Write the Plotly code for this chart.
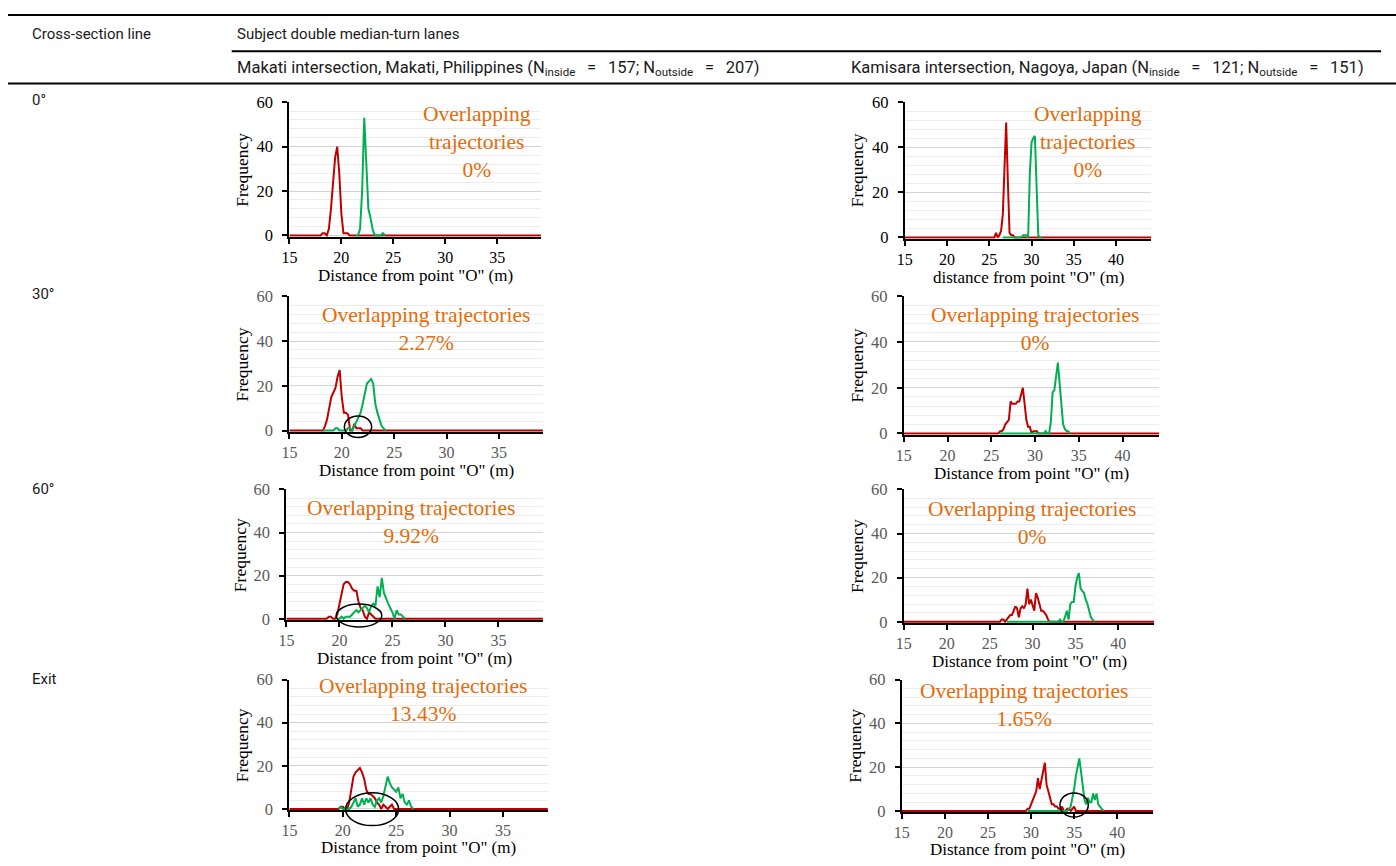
import plotly.graph_objects as go

# ---------------- data ----------------
# Makati, 0 deg
mk0_in_x = [15, 18.0, 18.2, 18.4, 18.6, 18.8, 19.0, 19.2, 19.4, 19.6, 19.8, 20.0, 20.2, 20.4, 20.6, 20.8, 39.2]
mk0_in_y = [0, 0, 1, 1, 0, 3, 12, 25, 35, 40, 28, 10, 1, 1, 1, 0, 0]
mk0_out_x = [21.4, 21.6, 21.8, 22.0, 22.2, 22.4, 22.6, 22.8, 23.0, 23.2, 23.4, 23.6, 23.8, 24.0, 24.2]
mk0_out_y = [0, 0, 3, 20, 53, 30, 12, 8, 3, 0, 0, 0, 0, 1, 0]

# Kamisara, 0 deg
km0_in_x = [15, 25.4, 25.6, 25.8, 26.0, 26.2, 26.4, 26.6, 26.8, 27.0, 27.2, 27.4, 27.6, 27.8, 28.0, 44.2]
km0_in_y = [0, 0, 0, 2, 0, 1, 3, 10, 35, 51, 25, 2, 1, 1, 0, 0]
km0_out_x = [26.6, 28.8, 29.0, 29.2, 29.4, 29.6, 29.8, 30.0, 30.2, 30.4, 30.6, 30.8, 31.0, 31.2]
km0_out_y = [0, 0, 1, 1, 1, 0, 28, 42, 44, 45, 20, 1, 0, 0]

# Makati, 30 deg
mk30_in_x = [15, 18.0, 18.2, 18.4, 18.6, 18.8, 19.0, 19.2, 19.4, 19.6, 19.8, 20.0, 20.2, 20.4, 20.6,
             20.8, 21.0, 21.2, 21.4, 21.6, 21.8, 22.0, 39.2]
mk30_in_y = [0, 0, 0, 2, 5, 10, 15, 17, 19, 24, 27, 15, 8, 8, 7, 0, 0, 3, 1, 1, 1, 0, 0]
mk30_out_x = [18.2, 19.2, 19.4, 19.6, 19.8, 20.0, 20.2, 20.4, 20.6, 20.8, 21.0, 21.2, 21.4, 21.6, 21.8,
              22.0, 22.2, 22.4, 22.6, 22.8, 23.0, 23.2, 23.4, 23.6, 23.8, 24.0, 24.2]
mk30_out_y = [0, 0, 1, 1, 0, 0, 0, 0, 1, 1, 0, 2, 4, 6, 8, 12, 17, 21, 22, 23, 21, 12, 8, 5, 2, 1, 0]

# Kamisara, 30 deg
km30_in_x = [15, 25.6, 25.8, 26.0, 26.2, 26.4, 26.6, 26.8, 27.0, 27.2, 27.4, 27.6, 27.8, 28.0, 28.2,
             28.4, 28.6, 28.8, 29.0, 29.2, 29.4, 29.6, 29.8, 30.0, 30.2, 30.4, 44.2]
km30_in_y = [0, 0, 0, 1, 1, 2, 4, 5, 6, 14, 13, 13, 13, 14, 14, 17, 20, 13, 6, 3, 3, 0, 1, 1, 1, 0, 0]
km30_out_x = [26.0, 30.8, 31.0, 31.2, 31.4, 31.6, 31.8, 32.0, 32.2, 32.4, 32.6, 32.8, 33.0, 33.2,
              33.4, 33.6, 33.8, 34.0]
km30_out_y = [0, 0, 0, 1, 0, 0, 5, 18, 19, 25, 31, 22, 12, 4, 2, 1, 1, 0]

# Makati, 60 deg
mk60_in_x = [15, 18.8, 19.0, 19.2, 19.4, 19.6, 19.8, 20.0, 20.2, 20.4, 20.6, 20.8, 21.0, 21.2, 21.4,
             21.6, 21.8, 22.0, 22.2, 22.4, 22.6, 22.8, 23.0, 23.2, 23.4, 39.2]
mk60_in_y = [0, 0, 1, 1, 0, 0, 2, 7, 12, 16, 17, 17, 16, 14, 13, 13, 8, 5, 4, 1, 0, 3, 2, 1, 0, 0]
mk60_out_x = [19.8, 20.0, 20.2, 20.4, 20.6, 20.8, 21.0, 21.2, 21.4, 21.6, 21.8, 22.0, 22.2, 22.4,
              22.6, 22.8, 23.0, 23.2, 23.4, 23.6, 23.8, 24.0, 24.2, 24.4, 24.6, 24.8, 25.0, 25.2,
              25.4, 25.6, 25.8, 26.0, 26.2]
mk60_out_y = [0, 0, 1, 0, 1, 1, 1, 2, 3, 4, 3, 4, 5, 6, 5, 3, 6, 7, 6, 15, 10, 19, 12, 9, 7, 5, 3,
              0, 4, 2, 2, 1, 0]

# Kamisara, 60 deg
km60_in_x = [15, 26.2, 26.4, 26.6, 26.8, 27.0, 27.2, 27.4, 27.6, 27.8, 28.0, 28.2, 28.4, 28.6, 28.8,
             29.0, 29.2, 29.4, 29.6, 29.8, 30.0, 30.2, 30.4, 30.6, 30.8, 31.0, 31.2, 31.4, 31.6,
             31.8, 32.0, 44.2]
km60_in_y = [0, 0, 1, 1, 0, 1, 2, 3, 3, 5, 7, 6, 2, 6, 7, 6, 8, 15, 8, 10, 7, 5, 13, 11, 8, 5, 5,
             4, 3, 1, 0, 0]
km60_out_x = [27.0, 33.0, 33.2, 33.4, 33.6, 33.8, 34.0, 34.2, 34.4, 34.6, 34.8, 35.0, 35.2, 35.4,
              35.6, 35.8, 36.0, 36.2, 36.4, 36.6, 36.8, 37.0, 37.2]
km60_out_y = [0, 0, 1, 0, 0, 3, 5, 1, 8, 9, 9, 16, 20, 22, 15, 14, 13, 10, 8, 5, 2, 1, 0]

# Makati, exit
mkex_in_x = [15, 19.4, 19.6, 19.8, 20.0, 20.2, 20.4, 20.6, 20.8, 21.0, 21.2, 21.4, 21.6, 21.8, 22.0,
             22.2, 22.4, 22.6, 22.8, 23.0, 23.2, 23.4, 23.6, 23.8, 24.0, 24.2, 24.4, 24.6, 24.8, 39.2]
mkex_in_y = [0, 0, 0, 1, 1, 0, 0, 3, 10, 15, 17, 18, 19, 17, 14, 9, 7, 7, 6, 5, 3, 2, 0, 2, 1, 0,
             1, 2, 0, 0]
mkex_out_x = [19.6, 19.8, 20.0, 20.2, 20.4, 20.6, 20.8, 21.0, 21.2, 21.4, 21.6, 21.8, 22.0, 22.2,
              22.4, 22.6, 22.8, 23.0, 23.2, 23.4, 23.6, 23.8, 24.0, 24.2, 24.4, 24.6, 24.8, 25.0,
              25.2, 25.4, 25.6, 25.8, 26.0, 26.2, 26.4, 26.6]
mkex_out_y = [0, 1, 0, 0, 0, 0, 1, 3, 5, 1, 2, 5, 2, 5, 3, 5, 2, 1, 4, 5, 3, 6, 10, 15, 12, 10, 9,
              8, 10, 5, 7, 3, 2, 4, 1, 0]

# Kamisara, exit
kmex_in_x = [15, 29.2, 29.4, 29.6, 29.8, 30.0, 30.2, 30.4, 30.6, 30.8, 31.0, 31.2, 31.4, 31.6, 31.8,
             32.0, 32.2, 32.4, 32.6, 32.8, 33.0, 33.2, 33.4, 33.6, 33.8, 34.0, 34.2, 34.4, 34.6,
             34.8, 35.0, 35.2, 44.2]
kmex_in_y = [0, 0, 0, 1, 1, 3, 5, 7, 9, 15, 10, 14, 18, 22, 12, 9, 7, 3, 3, 2, 2, 1, 1, 2, 0, 0,
             1, 1, 0, 1, 2, 0, 0]
kmex_out_x = [29.6, 34.0, 34.2, 34.4, 34.6, 34.8, 35.0, 35.2, 35.4, 35.6, 35.8, 36.0, 36.2, 36.4,
              36.6, 36.8, 37.0, 37.2, 37.4, 37.6, 37.8, 38.0, 38.2, 38.4]
kmex_out_y = [0, 0, 0, 1, 2, 6, 10, 16, 20, 24, 18, 10, 5, 3, 6, 4, 4, 8, 5, 8, 3, 2, 1, 0]

overlap_labels = ["Overlapping<br>trajectories<br>0%", "Overlapping<br>trajectories<br>0%",
                  "Overlapping trajectories<br>2.27%", "Overlapping trajectories<br>0%",
                  "Overlapping trajectories<br>9.92%", "Overlapping trajectories<br>0%",
                  "Overlapping trajectories<br>13.43%", "Overlapping trajectories<br>1.65%"]
x_titles = ['Distance from point "O" (m)', 'distance from point "O" (m)'] + ['Distance from point "O" (m)'] * 6
row_labels = ["0°", "30°", "60°", "Exit"]

W, H = 1396, 866
RED = "#C00000"
GREEN = "#00B050"
ORANGE = "#E46C0A"
SERIF = "Liberation Serif, Times New Roman, serif"
TABLE_FONT = "Roboto, Noto Sans, sans-serif"

panels = [
    dict(inx=mk0_in_x, iny=mk0_in_y, outx=mk0_out_x, outy=mk0_out_y, box=(283, 536, 95, 231), xmax=39.2, tc="#000000", lab=(472, 136), ell=None),
    dict(inx=km0_in_x, iny=km0_in_y, outx=km0_out_x, outy=km0_out_y, box=(902, 1150, 95, 233), xmax=44.2, tc="#000000", lab=(1086, 136), ell=None),
    dict(inx=mk30_in_x, iny=mk30_in_y, outx=mk30_out_x, outy=mk30_out_y, box=(283, 538, 293, 430), xmax=39.2, tc="#595959", lab=(420, 326), ell=(20.25, 22.85, -3.1, 6.5)),
    dict(inx=km30_in_x, iny=km30_in_y, outx=km30_out_x, outy=km30_out_y, box=(901, 1158, 293, 433), xmax=44.2, tc="#595959", lab=(1033, 326), ell=None),
    dict(inx=mk60_in_x, iny=mk60_in_y, outx=mk60_out_x, outy=mk60_out_y, box=(280, 538, 490, 622), xmax=39.2, tc="#595959", lab=(405, 523), ell=(19.7, 24.0, -3.8, 6.8)),
    dict(inx=km60_in_x, iny=km60_in_y, outx=km60_out_x, outy=km60_out_y, box=(901, 1153, 490, 625), xmax=44.2, tc="#595959", lab=(1030, 524), ell=None),
    dict(inx=mkex_in_x, iny=mkex_in_y, outx=mkex_out_x, outy=mkex_out_y, box=(283, 543, 684, 816), xmax=39.2, tc="#595959", lab=(417, 705), ell=(20.27, 25.23, -7.7, 7.5)),
    dict(inx=kmex_in_x, iny=kmex_in_y, outx=kmex_out_x, outy=kmex_out_y, box=(899, 1152, 684, 818), xmax=44.2, tc="#595959", lab=(1022, 710), ell=(33.35, 36.64, -2.8, 8.25)),
]

YMIN = -0.6
fig = go.Figure()
annotations = []
shapes = []
layout_axes = {}

for i, p in enumerate(panels):
    k = i + 1
    xs = "" if k == 1 else str(k)
    xa, ya = "x" + xs, "y" + xs
    l, r, t, b = p["box"]
    ppu = (b - t) / 60.0
    bottom = b + (-YMIN) * ppu
    fig.add_trace(go.Scatter(x=p["inx"], y=p["iny"], mode="lines", line=dict(color=RED, width=2),
                             xaxis=xa, yaxis=ya, showlegend=False, hoverinfo="skip"))
    fig.add_trace(go.Scatter(x=p["outx"], y=p["outy"], mode="lines", line=dict(color=GREEN, width=2),
                             xaxis=xa, yaxis=ya, showlegend=False, hoverinfo="skip"))
    layout_axes["xaxis" + xs] = dict(
        domain=[l / W, r / W], range=[15, p["xmax"]], anchor=ya, showline=True, linecolor="black",
        linewidth=1.5, ticks="outside", ticklen=5, tickcolor="black", tickwidth=1.5, tick0=15, dtick=5,
        showgrid=False, zeroline=False, tickfont=dict(family=SERIF, size=16, color=p["tc"]))
    layout_axes["yaxis" + xs] = dict(
        domain=[1 - bottom / H, 1 - t / H], range=[YMIN, 60], anchor=xa, showline=True,
        linecolor="black", linewidth=2, ticks="outside", ticklen=5, tickcolor="black", tickwidth=1.5,
        tick0=0, dtick=20, showgrid=True, gridcolor="#d4d4d4", gridwidth=1, ticklabelstandoff=6,
        minor=dict(dtick=4, tick0=0, showgrid=True, gridcolor="#ededed", gridwidth=1),
        zeroline=False, tickfont=dict(family=SERIF, size=16.5, color=p["tc"]))
    annotations.append(dict(text=x_titles[i], xref=xa + " domain", yref=ya + " domain", x=0.5, y=0,
                            xanchor="center", yanchor="top", yshift=(-26 if k >= 7 else -27),
                            showarrow=False, font=dict(family=SERIF, size=17, color="black")))
    annotations.append(dict(text="Frequency", xref=xa + " domain", yref=ya + " domain", x=0, y=0.5,
                            xanchor="center", yanchor="middle", xshift=-47, textangle=-90,
                            showarrow=False, font=dict(family=SERIF, size=17.5, color="black")))
    annotations.append(dict(text=overlap_labels[i], xref="paper", yref="paper",
                            x=p["lab"][0] / W, y=1 - p["lab"][1] / H, xanchor="center",
                            yanchor="middle", showarrow=False,
                            font=dict(family=SERIF, size=21.5, color=ORANGE)))
    if p["ell"]:
        x0, x1, y0, y1 = p["ell"]
        span = p["xmax"] - 15
        shapes.append(dict(type="circle", xref=xa + " domain", yref=ya + " domain",
                           x0=(x0 - 15) / span, x1=(x1 - 15) / span,
                           y0=(y0 - YMIN) / (60 - YMIN), y1=(y1 - YMIN) / (60 - YMIN),
                           line=dict(color="black", width=1.5)))

for (x0, x1, yy, w) in [(0, 1396, 6, 2), (225, 1381, 43, 2), (0, 1396, 76, 2)]:
    shapes.append(dict(type="line", xref="paper", yref="paper", x0=x0 / W, x1=x1 / W,
                       y0=1 - yy / H, y1=1 - yy / H, line=dict(color="black", width=w)))

tbl_font = dict(family=TABLE_FONT, size=15, color="#1a1a1a")
hdr_font = dict(family=TABLE_FONT, size=16.5, color="#1a1a1a")
EQ = "\u2002\u2009=\u2002\u2009"
table_texts = [
    ("Cross-section line", 22, 25, tbl_font),
    ("Subject double median-turn lanes", 228, 25, tbl_font),
    ("Makati intersection, Makati, Philippines (N<sub>inside</sub>" + EQ + "157; N<sub>outside</sub>" + EQ + "207)", 228, 61, hdr_font),
    ("Kamisara intersection, Nagoya, Japan (N<sub>inside</sub>" + EQ + "121; N<sub>outside</sub>" + EQ + "151)", 846, 61, hdr_font),
]
for txt, x, y, f in table_texts:
    annotations.append(dict(text=txt, xref="paper", yref="paper", x=x / W, y=1 - y / H,
                            xanchor="left", yanchor="middle", showarrow=False, font=f))
for txt, y in zip(row_labels, [93, 291, 490, 683]):
    annotations.append(dict(text=txt, xref="paper", yref="paper", x=22 / W, y=1 - y / H,
                            xanchor="left", yanchor="middle", showarrow=False, font=tbl_font))

fig.update_layout(width=W, height=H, margin=dict(l=0, r=0, t=0, b=0), paper_bgcolor="white",
                  plot_bgcolor="white", showlegend=False, annotations=annotations, shapes=shapes,
                  **layout_axes)
fig.write_html("out.html", config={"displayModeBar": False},
               post_script="document.body.style.margin='0';document.body.style.overflow='hidden';")
